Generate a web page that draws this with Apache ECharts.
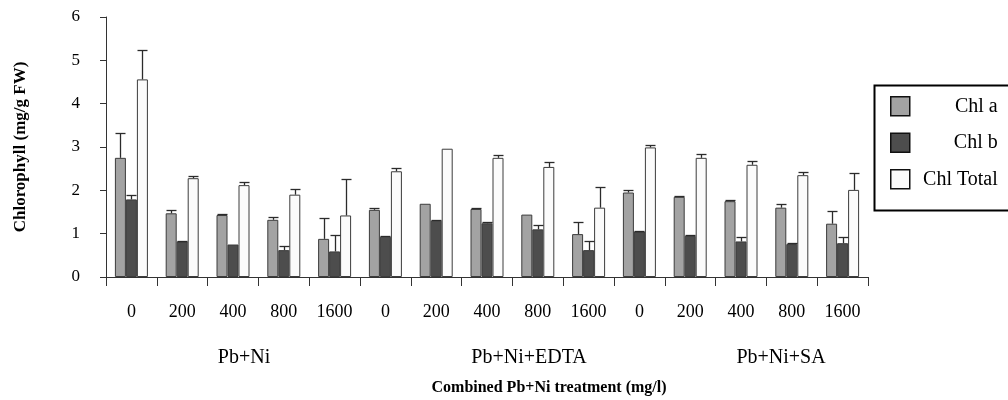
<!DOCTYPE html>
<html>
<head>
<meta charset="utf-8">
<script src="https://cdn.jsdelivr.net/npm/echarts@6/dist/echarts.min.js"></script>
<style>
  html, body { margin: 0; padding: 0; background: #fff; }
  #main { width: 1008px; height: 400px; }
</style>
</head>
<body>
<div id="main"></div>
<script>
// x axis labels (three treatment groups of five doses)
var categories = ['0', '200', '400', '800', '1600', '0', '200', '400', '800', '1600', '0', '200', '400', '800', '1600'];
var groupNames = ['Pb+Ni', 'Pb+Ni+EDTA', 'Pb+Ni+SA'];

// means
var chlA     = [2.75, 1.47, 1.43, 1.32, 0.88, 1.55, 1.69, 1.57, 1.44, 0.99, 1.95, 1.85, 1.75, 1.60, 1.23];
var chlB     = [1.79, 0.82, 0.75, 0.62, 0.59, 0.93, 1.30, 1.24, 1.10, 0.62, 1.05, 0.95, 0.82, 0.76, 0.78];
var chlTotal = [4.56, 2.28, 2.12, 1.90, 1.42, 2.44, 2.96, 2.75, 2.54, 1.60, 2.99, 2.75, 2.59, 2.35, 2.01];

// upper error (SD)
var errA     = [0.57, 0.08, 0.02, 0.07, 0.48, 0.05, 0, 0.02, 0, 0.29, 0.06, 0.02, 0.02, 0.09, 0.29];
var errB     = [0.11, 0.02, 0, 0.10, 0.37, 0.02, 0.02, 0.02, 0.10, 0.21, 0.02, 0.02, 0.10, 0.02, 0.14];
var errTotal = [0.67, 0.04, 0.07, 0.13, 0.85, 0.07, 0, 0.06, 0.11, 0.48, 0.06, 0.08, 0.08, 0.08, 0.40];

var yTicks = [0, 1, 2, 3, 4, 5, 6];

var FONT = 'Liberation Serif';
var BAR_W = 11;

/**
 * 误差线 custom series
 */
function errSeries(name, vals, errs, offset) {
  var data = [];
  for (var i = 0; i < vals.length; i++) {
    data.push([i, vals[i], vals[i] + errs[i]]);
  }
  return {
    name: name,
    type: 'custom',
    z: 5,
    data: data,
    renderItem: function (params, api) {
      var lo = api.coord([api.value(0), api.value(1)]);
      var hi = api.coord([api.value(0), api.value(2)]);
      if (api.value(2) <= api.value(1)) return null;
      var x = Math.round(lo[0] + offset * BAR_W) + 0.5;
      var y0 = lo[1], y1 = Math.round(hi[1]) + 0.5;
      var half = 5;
      var st = { stroke: '#2b2b2b', lineWidth: 1.3 };
      return {
        type: 'group',
        children: [
          { type: 'line', shape: { x1: x, y1: y0, x2: x, y2: y1 }, style: st },
          { type: 'line', shape: { x1: x - half, y1: y1, x2: x + half, y2: y1 }, style: st }
        ]
      };
    }
  };
}

var myChart = echarts.init(document.getElementById('main'));

var barBorder = { borderColor: '#3c3c3c', borderWidth: 1 };

var option = {
  animation: false,
  textStyle: { fontFamily: FONT },
  grid: { left: 106, right: 140, top: 17, bottom: 123, containLabel: false, outerBoundsMode: 'none' },
  legend: {
    data: ['Chl a', 'Chl b', 'Chl Total'],
    orient: 'vertical',
    left: 890,
    top: 96,
    padding: 0,
    itemGap: 16,
    itemWidth: 19,
    itemHeight: 19,
    icon: 'rect',
    itemStyle: { borderColor: '#111', borderWidth: 1.5 },
    formatter: '{r|{name}}',
    textStyle: {
      fontFamily: FONT,
      fontSize: 20,
      lineHeight: 19,
      color: '#000',
      rich: { r: { width: 83, align: 'right', fontFamily: FONT, fontSize: 20, lineHeight: 19, color: '#000' } }
    }
  },
  xAxis: {
    type: 'category',
    data: categories,
    axisLine: { lineStyle: { color: '#333', width: 1 } },
    axisTick: { show: true, length: 9, lineStyle: { color: '#333' } },
    axisLabel: { color: '#000', fontSize: 18, fontFamily: FONT, margin: 26, interval: 0 }
  },
  yAxis: {
    type: 'value',
    min: yTicks[0],
    max: yTicks[yTicks.length - 1],
    interval: 1,
    name: 'Chlorophyll (mg/g FW)',
    nameLocation: 'middle',
    nameGap: 77,
    nameTextStyle: { color: '#000', fontSize: 17, fontWeight: 'bold', fontFamily: FONT },
    splitLine: { show: false },
    axisLine: { show: true, lineStyle: { color: '#333', width: 1 } },
    axisTick: { show: true, length: 6, lineStyle: { color: '#333' } },
    axisLabel: { color: '#000', fontSize: 17, fontFamily: FONT, margin: 26 }
  },
  series: [
    { name: 'Chl a', type: 'bar', barWidth: BAR_W, barGap: '0%', data: chlA,
      itemStyle: Object.assign({ color: '#a3a3a3' }, barBorder) },
    { name: 'Chl b', type: 'bar', barWidth: BAR_W, barGap: '0%', data: chlB,
      itemStyle: Object.assign({ color: '#4d4d4d' }, barBorder) },
    { name: 'Chl Total', type: 'bar', barWidth: BAR_W, barGap: '0%', data: chlTotal,
      itemStyle: Object.assign({ color: '#fbfbfb' }, barBorder) },
    errSeries('errA', chlA, errA, -1),
    errSeries('errB', chlB, errB, 0),
    errSeries('errTotal', chlTotal, errTotal, 1)
  ],
  graphic: [
    // 图例外框
    { type: 'rect', left: 872, top: 83, z: 0,
      shape: { width: 135, height: 125 },
      style: { fill: 'none', stroke: '#000', lineWidth: 2 } },
    // 分组标签
    { type: 'text', x: 244, y: 358, style: { text: groupNames[0], font: '20px ' + FONT, fill: '#000', align: 'center', verticalAlign: 'middle' } },
    { type: 'text', x: 529, y: 358, style: { text: groupNames[1], font: '20px ' + FONT, fill: '#000', align: 'center', verticalAlign: 'middle' } },
    { type: 'text', x: 781, y: 358, style: { text: groupNames[2], font: '20px ' + FONT, fill: '#000', align: 'center', verticalAlign: 'middle' } },
    { type: 'text', x: 549, y: 388, style: { text: 'Combined Pb+Ni treatment (mg/l)', font: 'bold 16px ' + FONT, fill: '#000', align: 'center', verticalAlign: 'middle' } }
  ]
};

myChart.setOption(option);
</script>
</body>
</html>
